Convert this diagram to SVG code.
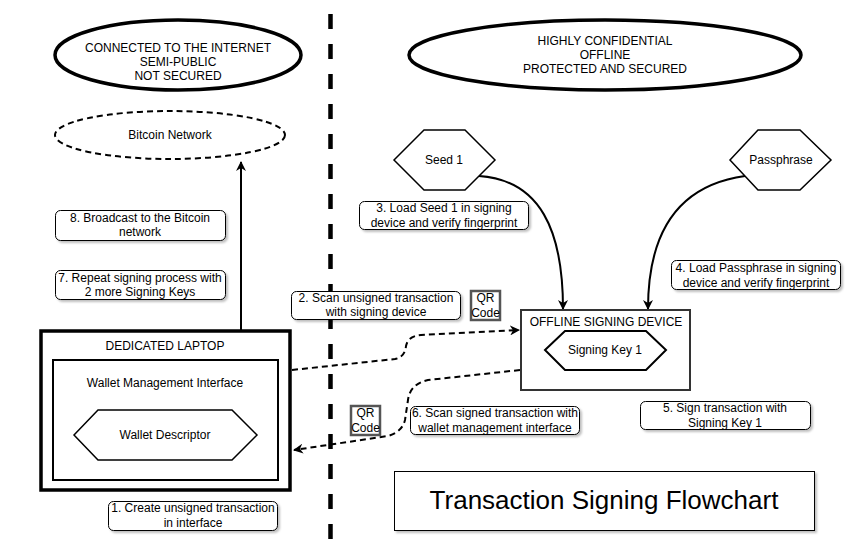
<svg xmlns="http://www.w3.org/2000/svg" width="850" height="550" viewBox="0 0 850 550">
<defs>
<marker id="arr" viewBox="0 0 10 10" refX="9" refY="5" markerWidth="10" markerHeight="10" markerUnits="userSpaceOnUse" orient="auto">
<path d="M0,0 L10,5 L0,10 L3,5 Z" fill="#000"/>
</marker>
<filter id="sh" x="-10%" y="-10%" width="130%" height="140%">
<feDropShadow dx="2" dy="2" stdDeviation="1" flood-color="#000" flood-opacity="0.25"/>
</filter>
<style>
text{font-family:"Liberation Sans",Arial,sans-serif;font-size:12px;fill:#000;text-anchor:middle}
.lbl{fill:#fff;stroke:#000;stroke-width:1;filter:url(#sh)}
.qr{fill:#fff;stroke:#555;stroke-width:2.5}
.hex{fill:#fff;stroke:#000;stroke-width:1.5}
.conn{fill:none;stroke:#000;stroke-width:2}
.dash{fill:none;stroke:#000;stroke-width:2;stroke-dasharray:6 4}
</style>
</defs>
<rect width="850" height="550" fill="#fff"/>

<g id="divider">
<line x1="330.5" y1="14" x2="330.5" y2="550" stroke="#000" stroke-width="4.5" stroke-dasharray="15 15"/>
</g>

<g id="zone-internet">
<ellipse cx="178" cy="55" rx="123" ry="35" fill="#fff" stroke="#000" stroke-width="3.5"/>
<text x="178" y="52">CONNECTED TO THE INTERNET</text>
<text x="178" y="66">SEMI-PUBLIC</text>
<text x="178" y="80">NOT SECURED</text>
</g>

<g id="zone-offline">
<ellipse cx="605" cy="55" rx="196" ry="35" fill="#fff" stroke="#000" stroke-width="3.5"/>
<text x="605" y="45">HIGHLY CONFIDENTIAL</text>
<text x="605" y="59">OFFLINE</text>
<text x="605" y="73">PROTECTED AND SECURED</text>
</g>

<g id="bitcoin-network">
<ellipse cx="170" cy="135" rx="115" ry="24" fill="#fff" stroke="#000" stroke-width="2" stroke-dasharray="6 4"/>
<text x="170" y="139">Bitcoin Network</text>
</g>

<g id="seed1">
<polygon class="hex" points="394,160 424,130 465,130 495,160 465,190 424,190"/>
<text x="444" y="164">Seed 1</text>
</g>

<g id="passphrase">
<polygon class="hex" points="730,160 758,130 800,130 831,160 800,190 758,190"/>
<text x="781" y="164">Passphrase</text>
</g>

<g id="connectors">
<path class="conn" d="M241,330 L241,162" marker-end="url(#arr)"/>
<path class="conn" d="M479,176 C540,180 563,230 563,309" marker-end="url(#arr)"/>
<path class="conn" d="M745,176 C680,185 648,230 648,309" marker-end="url(#arr)"/>
<path class="dash" d="M292,370 L395,359 Q405,357 406,346 Q408,336 421,335 L519,330" marker-end="url(#arr)"/>
<path class="dash" d="M520,370 L428,380 Q410,384 408,400 L405,420 Q402,432 388,436 L294,450" marker-end="url(#arr)"/>
</g>

<g id="laptop">
<rect x="41" y="331" width="249" height="159" fill="none" stroke="#000" stroke-width="3.5"/>
<text x="165" y="350">DEDICATED LAPTOP</text>
</g>

<g id="wallet-interface">
<rect x="53" y="360" width="225" height="120" fill="#fff" stroke="#000" stroke-width="2"/>
<text x="165" y="387">Wallet Management Interface</text>
</g>

<g id="wallet-descriptor">
<polygon class="hex" points="74,435 98,410 232,410 257,435 232,460 98,460"/>
<text x="165" y="439">Wallet Descriptor</text>
</g>

<g id="signing-device">
<rect x="521" y="310" width="169" height="80" fill="#fff" stroke="#333" stroke-width="2"/>
<text x="606" y="326">OFFLINE SIGNING DEVICE</text>
</g>

<g id="signing-key-1">
<polygon class="hex" points="545,350 565,331 646,331 666,350 646,370 565,370" style="stroke-width:2"/>
<text x="605" y="354">Signing Key 1</text>
</g>

<g id="step8">
<rect class="lbl" x="55.5" y="210.5" width="170" height="30" rx="5"/>
<text x="140" y="222">8. Broadcast to the Bitcoin</text>
<text x="140" y="236">network</text>
</g>

<g id="step7">
<rect class="lbl" x="55.5" y="270.5" width="170" height="29" rx="5"/>
<text x="140" y="282">7. Repeat signing process with</text>
<text x="140" y="296">2 more Signing Keys</text>
</g>

<g id="step3">
<rect class="lbl" x="359.5" y="201.5" width="169" height="28" rx="5"/>
<text x="444" y="212">3. Load Seed 1 in signing</text>
<text x="444" y="227">device and verify fingerprint</text>
</g>

<g id="step4">
<rect class="lbl" x="671.5" y="260.5" width="169" height="29" rx="5"/>
<text x="756" y="272">4. Load Passphrase in signing</text>
<text x="756" y="287">device and verify fingerprint</text>
</g>

<g id="step2">
<rect class="lbl" x="291.5" y="291.5" width="169" height="28" rx="5"/>
<text x="376" y="302">2. Scan unsigned transaction</text>
<text x="376" y="316">with signing device</text>
</g>

<g id="qr-top">
<rect class="qr" x="471" y="291" width="29" height="29"/>
<text x="485.5" y="302">QR</text>
<text x="485.5" y="317">Code</text>
</g>

<g id="step5">
<rect class="lbl" x="640.5" y="401.5" width="170" height="28" rx="5"/>
<text x="725" y="412">5. Sign transaction with</text>
<text x="725" y="427">Signing Key 1</text>
</g>

<g id="step6">
<rect class="lbl" x="410.5" y="406.5" width="169" height="28" rx="5"/>
<text x="495" y="417">6. Scan signed transaction with</text>
<text x="495" y="432">wallet management interface</text>
</g>

<g id="qr-bottom">
<rect class="qr" x="351" y="406" width="29" height="29"/>
<text x="365.5" y="417">QR</text>
<text x="365.5" y="432">Code</text>
</g>

<g id="step1">
<rect class="lbl" x="108.5" y="501.5" width="169" height="29" rx="5"/>
<text x="193" y="512">1. Create unsigned transaction</text>
<text x="193" y="527">in interface</text>
</g>

<g id="title">
<rect x="394.5" y="471.5" width="420" height="59" fill="#fff" stroke="#000" stroke-width="1" filter="url(#sh)"/>
<text x="604" y="509" style="font-size:26px">Transaction Signing Flowchart</text>
</g>
</svg>
